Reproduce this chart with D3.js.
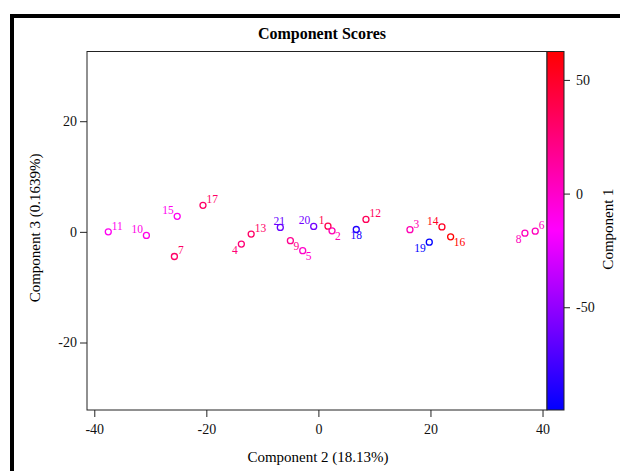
<!DOCTYPE html>
<html><head><meta charset="utf-8">
<script src="https://cdn.jsdelivr.net/npm/d3@7"></script>
<style>
html,body{margin:0;padding:0;background:#fff;}
svg{display:block;}
text{font-family:"Liberation Serif","Times New Roman",serif;}
</style></head>
<body>
<svg id="chart" width="620" height="471"></svg>
<script>
// ---- data ----
const ids    = [1,2,3,4,5,6,7,8,9,10,11,12,13,14,15,16,17,18,19,20,21];
const comp2  = [1.71,2.43,16.34,-13.75,-2.8,38.7,-25.7,36.86,-5.0,-30.7,-37.5,8.49,-12.0,22.05,-25.2,23.6,-20.6,6.76,19.79,-0.84,-6.8];
const comp3  = [1.03,0.18,0.4,-2.2,-3.4,0.13,-4.45,-0.23,-1.6,-0.65,0.0,2.24,-0.4,0.9,2.8,-0.9,4.8,0.43,-1.86,0.98,0.8];
const comp1  = [39,7,7,26,0,4,31,4,18,-9,-12,35,31,51,-12,62.5,31,-85,-95.2,-60,-63];
const labelPos = ["ul","lr","ur","ll","lr","ur","ur","ll","lr","ul","ur","ur","ur","ul","ul","lr","ur","b","ll","ul","t"];
const xTicks = [-40,-20,0,20,40];
const yTicks = [-20,0,20];
const cTicks = [-50,0,50];

const svg = d3.select("#chart");

// page frame (thick border top/left)
svg.append("path").attr("d","M12,471 L12,16 L620,16")
  .attr("fill","none").attr("stroke","#000").attr("stroke-width",4);

const L=87, R=547, T=51.5, B=410;
const x = d3.scaleLinear().domain([-41.3,40.8]).range([L,R]);
const y = d3.scaleLinear().domain([-32.2,32.6]).range([B,T]);
const ext = d3.extent(comp1);
const col = d3.scaleLinear().domain([ext[0],(ext[0]+ext[1])/2,ext[1]])
  .range(["#0000ff","#ff00ff","#ff0000"]);
const cy = d3.scaleLinear().domain(ext).range([B,T]);

// title
svg.append("text").attr("x",322).attr("y",39).attr("text-anchor","middle")
  .attr("font-size",16).attr("font-weight","bold").text("Component Scores");

// axes
const fmt = d => String(d);
const xa = svg.append("g").attr("transform",`translate(0,${B})`)
  .call(d3.axisBottom(x).tickValues(xTicks).tickFormat(fmt).tickSize(7).tickPadding(7));
const ya = svg.append("g").attr("transform",`translate(${L},0)`)
  .call(d3.axisLeft(y).tickValues(yTicks).tickFormat(fmt).tickSize(7).tickPadding(3));
[xa,ya].forEach(g=>{
  g.select(".domain").remove();
  g.selectAll("line").attr("stroke","#222");
  g.selectAll("text").attr("font-size",14).attr("fill","#111")
   .attr("font-family",'"Liberation Serif",serif');
});

// plot box
svg.append("rect").attr("x",L).attr("y",T).attr("width",R-L).attr("height",B-T)
  .attr("fill","none").attr("stroke","#222").attr("stroke-width",1);

// axis titles
svg.append("text").attr("x",318).attr("y",462).attr("text-anchor","middle")
  .attr("font-size",15).text("Component 2 (18.13%)");
svg.append("text").attr("transform","translate(39.5,228) rotate(-90)").attr("text-anchor","middle")
  .attr("font-size",15).text("Component 3 (0.1639%)");

// colorbar
const defs = svg.append("defs");
const grad = defs.append("linearGradient").attr("id","cg")
  .attr("x1",0).attr("y1",1).attr("x2",0).attr("y2",0);
d3.range(0,1.0001,0.05).forEach(t=>{
  grad.append("stop").attr("offset",t).attr("stop-color",col(ext[0]+t*(ext[1]-ext[0])));
});
svg.append("rect").attr("x",547).attr("y",T).attr("width",17).attr("height",B-T)
  .attr("fill","url(#cg)").attr("stroke","#222").attr("stroke-width",1);
const ca = svg.append("g").attr("transform","translate(564,0)")
  .call(d3.axisRight(cy).tickValues(cTicks).tickFormat(fmt).tickSize(6).tickPadding(6));
ca.select(".domain").remove();
ca.selectAll("line").attr("stroke","#222");
ca.selectAll("text").attr("font-size",14).attr("fill","#111")
  .attr("font-family",'"Liberation Serif",serif');
svg.append("text").attr("transform","translate(613,229) rotate(-90)").attr("text-anchor","middle")
  .attr("font-size",15).text("Component 1");

// points
const data = ids.map((id,i)=>({id, x:comp2[i], y:comp3[i], c:comp1[i], p:labelPos[i]}));
const g = svg.append("g");
g.selectAll("circle").data(data).join("circle")
  .attr("cx",d=>x(d.x)).attr("cy",d=>y(d.y)).attr("r",3)
  .attr("fill","none").attr("stroke",d=>col(d.c)).attr("stroke-width",1.3);
const off = {ur:[3.5,-2,"start"], ul:[-3.5,-2,"end"], lr:[3,9.5,"start"], ll:[-3.5,9.5,"end"], t:[-1,-2.5,"middle"], b:[0,10,"middle"]};
g.selectAll("text").data(data).join("text")
  .attr("x",d=>x(d.x)+off[d.p][0]).attr("y",d=>y(d.y)+off[d.p][1])
  .attr("text-anchor",d=>off[d.p][2])
  .attr("font-size",11.5).attr("fill",d=>col(d.c)).text(d=>d.id);
</script>
</body></html>
